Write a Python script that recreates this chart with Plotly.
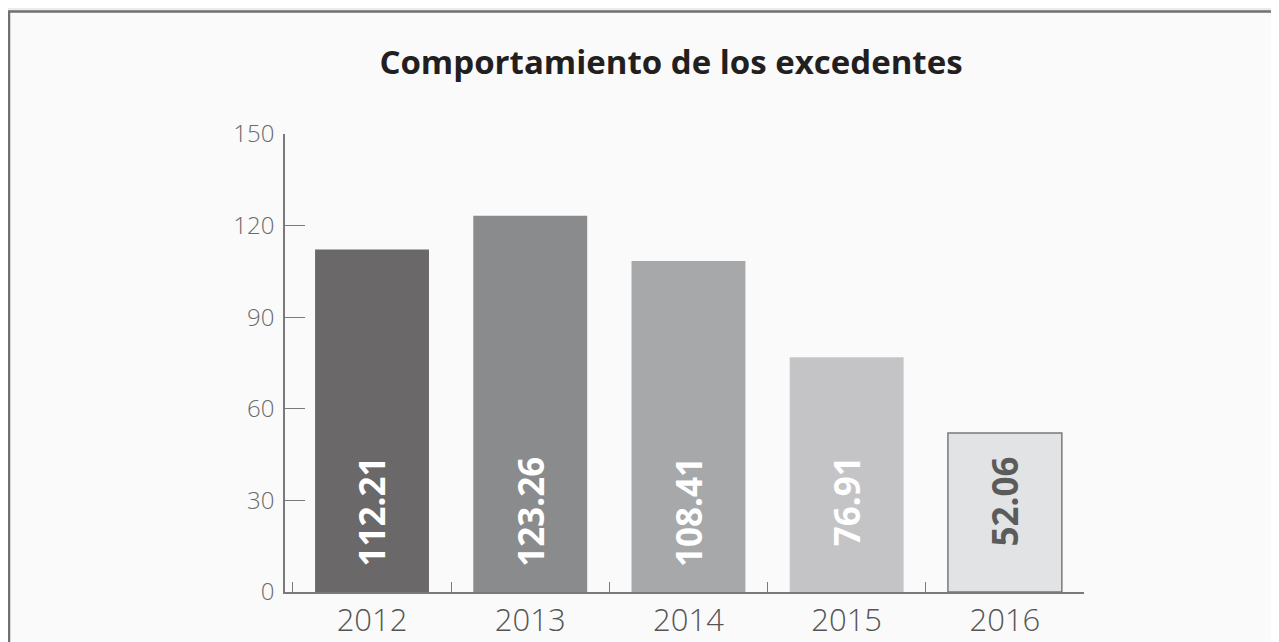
import plotly.graph_objects as go

years = ["2012", "2013", "2014", "2015", "2016"]
values = [112.21, 123.26, 108.41, 76.91, 52.06]
bar_colors = ["#6a6869", "#8a8b8d", "#a7a8aa", "#c4c4c6", "#e2e3e5"]
label_colors = ["#ffffff", "#ffffff", "#ffffff", "#ffffff", "#5b5b5b"]
y_ticks = [0, 30, 60, 90, 120, 150]
title_text = "Comportamiento de los excedentes"

LABEL_Y = 45  # data-level where value labels are anchored (top of rotated text)

# page body adds an 8px margin, so the figure is 8px smaller than the window
W, H = 1271, 634
ML, MR, MT, MB = 277, 195, 126, 50
plot_w = W - ML - MR
plot_h = H - MT - MB

fig = go.Figure()
fig.add_trace(go.Bar(
    x=years,
    y=values,
    marker=dict(
        color=bar_colors,
        line=dict(color=["rgba(0,0,0,0)"] * 4 + ["#7a7a7a"], width=[0, 0, 0, 0, 1.5]),
    ),
    hoverinfo="x+y",
))

for i, (v, c) in enumerate(zip(values, label_colors)):
    fig.add_annotation(
        x=i, y=LABEL_Y, xref="x", yref="y",
        text=f"{v:.2f}", textangle=-90, showarrow=False,
        yanchor="top", xanchor="center",
        font=dict(family="Open Sans", size=35, color=c, weight=700),
    )

# outer frame (paper-like panel)
fig.add_shape(
    type="rect", xref="paper", yref="paper", layer="below",
    x0=(1 - ML) / plot_w, x1=1.6,
    y0=-0.4, y1=(H - MB - 3.5) / plot_h,
    fillcolor="#fafafa", line=dict(color="#707070", width=2.5),
)

axis_col = "#7a7a7a"
fig.update_layout(
    width=W, height=H,
    margin=dict(l=ML, r=MR, t=MT, b=MB, autoexpand=False),
    paper_bgcolor="#ebebeb",
    plot_bgcolor="rgba(0,0,0,0)",
    bargap=0.28,
    showlegend=False,
    title=dict(
        text=title_text, x=663 / W, xref="container", xanchor="center",
        y=1 - 54 / H, yref="container", yanchor="middle",
        font=dict(family="Open Sans", size=33, color="#231f20", weight=700),
    ),
    xaxis=dict(
        type="category", range=[-0.55, 4.5], automargin=False,
        tickson="boundaries", ticks="inside", ticklen=10, tickwidth=1.2, tickcolor=axis_col,
        showline=True, linecolor=axis_col, linewidth=1.5,
        showgrid=False, zeroline=False,
        tickfont=dict(family="Open Sans", size=31, color="#555555", weight=300),
    ),
    yaxis=dict(
        range=[0, 150], tickvals=y_ticks, automargin=False,
        ticks="inside", ticklen=20, tickwidth=1.2, tickcolor=axis_col,
        showline=True, linecolor=axis_col, linewidth=1.5,
        showgrid=False, zeroline=False,
        tickfont=dict(family="Open Sans", size=24, color="#6a6a6a", weight=300),
        ticklabelstandoff=4,
    ),
)

fig.write_html("out.html")
